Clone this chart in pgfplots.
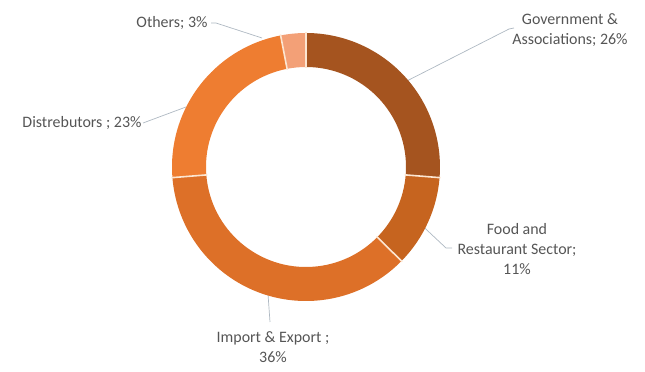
\documentclass[border=0pt]{standalone}
\usepackage{pgfplots}
\pgfplotsset{compat=1.18}
\usepackage{pgfplotstable}
\usepackage{fontspec}
\setmainfont{Carlito}
\definecolor{govc}{HTML}{A5541F}
\definecolor{foodc}{HTML}{C6641F}
\definecolor{impc}{HTML}{DD7028}
\definecolor{distc}{HTML}{EE7D31}
\definecolor{othc}{HTML}{F3A077}
\definecolor{sepc}{HTML}{FCE6D2}
\definecolor{txtc}{HTML}{555555}
\definecolor{leadc}{HTML}{AEB8C2}
\pgfplotstableread{
label value
Gov 26
Food 11
Import 36
Dist 23
Others 3
}\datatable
\begin{document}%
\begin{tikzpicture}
\pgfplotstablegetelem{0}{value}\of\datatable \let\vA\pgfplotsretval
\pgfplotstablegetelem{1}{value}\of\datatable \let\vB\pgfplotsretval
\pgfplotstablegetelem{2}{value}\of\datatable \let\vC\pgfplotsretval
\pgfplotstablegetelem{3}{value}\of\datatable \let\vD\pgfplotsretval
\pgfplotstablegetelem{4}{value}\of\datatable \let\vE\pgfplotsretval
\pgfmathsetmacro\tot{\vA+\vB+\vC+\vD+\vE}
\pgfmathsetmacro\aA{90}
\pgfmathsetmacro\aB{\aA-360*\vA/\tot}
\pgfmathsetmacro\aC{\aB-360*\vB/\tot}
\pgfmathsetmacro\aD{\aC-360*\vC/\tot}
\pgfmathsetmacro\aE{\aD-360*\vD/\tot}
\pgfmathsetmacro\aF{\aE-360*\vE/\tot}
\begin{axis}[at={(0,0)}, anchor=south west, x=1bp, y=1bp,
  xmin=0, xmax=645, ymin=0, ymax=372, hide axis, clip=false]
\addplot[draw=none, forget plot] coordinates {(0,0) (645,372)};
% leader lines
\draw[leadc, line width=0.7bp] (axis cs:211,349) -- (axis cs:216,349) -- (axis cs:262,334);
\draw[leadc, line width=0.7bp] (axis cs:514,344) -- (axis cs:509,343) -- (axis cs:395,285);
\draw[leadc, line width=0.7bp] (axis cs:452,124) -- (axis cs:446,124) -- (axis cs:413,155);
\draw[leadc, line width=0.7bp] (axis cs:270,50) -- (axis cs:267,92);
\draw[leadc, line width=0.7bp] (axis cs:143,249) -- (axis cs:186,265);
% sectors
\fill[govc] (axis cs:306,205) ++(\aA:134bp) arc[start angle=\aA, end angle=\aB, radius=134bp] -- ++(\aB:-34bp) arc[start angle=\aB, end angle=\aA, radius=100bp] -- cycle;
\fill[foodc] (axis cs:306,205) ++(\aB:134bp) arc[start angle=\aB, end angle=\aC, radius=134bp] -- ++(\aC:-34bp) arc[start angle=\aC, end angle=\aB, radius=100bp] -- cycle;
\fill[impc] (axis cs:306,205) ++(\aC:134bp) arc[start angle=\aC, end angle=\aD, radius=134bp] -- ++(\aD:-34bp) arc[start angle=\aD, end angle=\aC, radius=100bp] -- cycle;
\fill[distc] (axis cs:306,205) ++(\aD:134bp) arc[start angle=\aD, end angle=\aE, radius=134bp] -- ++(\aE:-34bp) arc[start angle=\aE, end angle=\aD, radius=100bp] -- cycle;
\fill[othc] (axis cs:306,205) ++(\aE:134bp) arc[start angle=\aE, end angle=\aF, radius=134bp] -- ++(\aF:-34bp) arc[start angle=\aF, end angle=\aE, radius=100bp] -- cycle;
% separators
\draw[sepc, line width=1.6bp] (axis cs:306,205) ++(\aA:99bp) -- ++(\aA:36bp);
\draw[sepc, line width=1.6bp] (axis cs:306,205) ++(\aB:99bp) -- ++(\aB:36bp);
\draw[sepc, line width=1.6bp] (axis cs:306,205) ++(\aC:99bp) -- ++(\aC:36bp);
\draw[sepc, line width=1.6bp] (axis cs:306,205) ++(\aD:99bp) -- ++(\aD:36bp);
\draw[sepc, line width=1.6bp] (axis cs:306,205) ++(\aE:99bp) -- ++(\aE:36bp);
% labels
\tikzset{lab/.style={text=txtc, font=\fontsize{16}{20}\selectfont, align=center, inner sep=0pt}}
\node[lab] at (axis cs:172,349) {Others; 3\%};
\node[lab] at (axis cs:570,342) {Government \&\\Associations; 26\%};
\node[lab] at (axis cs:517,123) {Food and\\Restaurant Sector;\\11\%};
\node[lab] at (axis cs:273,25) {Import \& Export ;\\36\%};
\node[lab] at (axis cs:82,249) {Distrebutors ; 23\%};
\end{axis}
\pgfresetboundingbox
\path[use as bounding box] (0,0) rectangle (645bp,372bp);
\end{tikzpicture}%
\end{document}
